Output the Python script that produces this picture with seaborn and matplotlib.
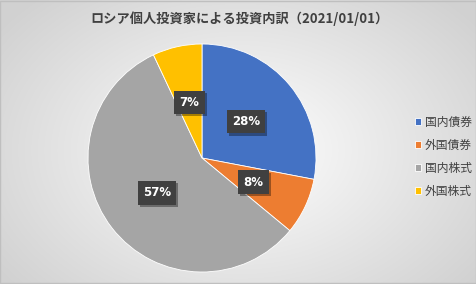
import numpy as np
import matplotlib
matplotlib.use("Agg")
import matplotlib.pyplot as plt
import matplotlib.patheffects as pe
import seaborn as sns

categories = ["国内債券", "外国債券", "国内株式", "外国株式"]
values = [28, 8, 57, 7]
pct_labels = ["28%", "8%", "57%", "7%"]
title = "ロシア個人投資家による投資内訳（2021/01/01）"

sns.set_theme(style="white")
plt.rcParams['font.family'] = ['Noto Sans CJK JP', 'DejaVu Sans']
colors = ["#4472C4", "#ED7D31", "#A5A5A5", "#FFC000"]

W, H = 477, 284
fig = plt.figure(figsize=(W / 100, H / 100), dpi=100)

# radial gradient background
bg = fig.add_axes([0, 0, 1, 1], zorder=0)
yy, xx = np.mgrid[0:H, 0:W]
cx, cy = 240, 150
d = np.sqrt(((xx - cx) / 300.0) ** 2 + ((yy - cy) / 210.0) ** 2)
d = np.clip(d, 0, 1)
v = 1.0 - 0.18 * d
img = np.dstack([v, v, v])
bg.imshow(img, aspect='auto', extent=[0, 1, 0, 1], origin='upper')
bg.set_xlim(0, 1); bg.set_ylim(0, 1)
bg.axis('off')
bg.add_patch(plt.Rectangle((0.001, 0.002), 0.997, 0.995, fill=False,
                           edgecolor="#bfbfbf", lw=1, transform=bg.transAxes))

# pie axes
pcx, pcy, r = 202, H - 158, 114
ax = fig.add_axes([(pcx - r) / W, (pcy - r) / H, 2 * r / W, 2 * r / H], zorder=1)
wedges, texts = ax.pie(values, colors=colors, startangle=90, counterclock=False,
                       radius=1, wedgeprops=dict(linewidth=0.6, edgecolor="white"))
ax.set_xlim(-1, 1); ax.set_ylim(-1, 1)
ax.set_aspect('equal')
ax.axis('off')

for w, lab in zip(wedges, pct_labels):
    ang = np.deg2rad((w.theta1 + w.theta2) / 2)
    x, y = 0.5 * np.cos(ang), 0.5 * np.sin(ang)
    t = ax.text(x, y, lab, ha='center', va='center', color='white',
                fontsize=8.5, fontweight='bold', family=['DejaVu Sans'],
                bbox=dict(boxstyle='square,pad=0.45', facecolor='#404040',
                          edgecolor='none'))
    t.get_bbox_patch().set_path_effects([
        pe.SimplePatchShadow(offset=(1.5, -1.5), shadow_rgbFace='black', alpha=0.35),
        pe.Normal()])

fig.text(240 / W, 1 - 19 / H, title, ha='center', va='center',
         fontsize=9.5, fontweight='bold', color='#404040')

leg = fig.legend(wedges, categories, loc='center left',
                 bbox_to_anchor=(404 / W, 1 - 157 / H), frameon=False,
                 fontsize=8.5, handlelength=0.55, handleheight=0.55,
                 handletextpad=0.3, labelspacing=0.85, labelcolor='#404040')

fig.savefig("out.png", dpi=100)
